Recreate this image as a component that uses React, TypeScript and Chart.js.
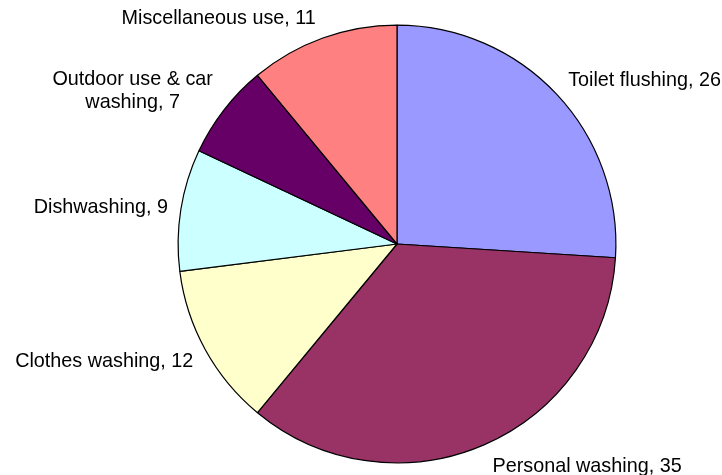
import React, { useEffect, useRef } from 'react';
import { Chart, registerables } from 'chart.js';

Chart.register(...registerables);

const categories = [
  'Toilet flushing',
  'Personal washing',
  'Clothes washing',
  'Dishwashing',
  'Outdoor use & car washing',
  'Miscellaneous use',
];
const values = [26, 35, 12, 9, 7, 11];
const colors = ['#9999FF', '#993366', '#FFFFCC', '#CCFFFF', '#660066', '#FF8080'];

const FONT_SIZE = 19.8;
const FONT = `${FONT_SIZE}px 'Liberation Sans', Arial, sans-serif`;

function wrap(ctx: CanvasRenderingContext2D, text: string, maxW: number): string[] {
  const words = text.split(' ');
  const lines: string[] = [];
  let cur = '';
  for (const w of words) {
    const test = cur ? cur + ' ' + w : w;
    if (cur && ctx.measureText(test).width > maxW) {
      lines.push(cur);
      cur = w;
    } else {
      cur = test;
    }
  }
  if (cur) lines.push(cur);
  return lines;
}

const labelPlugin = {
  id: 'outsideLabels',
  afterDatasetsDraw(chart: any) {
    const ctx: CanvasRenderingContext2D = chart.ctx;
    const meta = chart.getDatasetMeta(0);
    ctx.save();
    ctx.font = FONT;
    ctx.fillStyle = '#000';
    ctx.textBaseline = 'alphabetic';
    ctx.textAlign = 'center';
    meta.data.forEach((arc: any, i: number) => {
      const { x, y, startAngle, endAngle, outerRadius } = arc.getProps(
        ['x', 'y', 'startAngle', 'endAngle', 'outerRadius'],
        true
      );
      const mid = (startAngle + endAngle) / 2;
      const dx = Math.cos(mid);
      const dy = Math.sin(mid);
      const R = outerRadius + 9;
      const ax = x + dx * R;
      const ay = y + dy * R;
      const text = `${chart.data.labels[i]}, ${chart.data.datasets[0].data[i]}`;
      const lines = wrap(ctx, text, 200);
      const widths = lines.map((l) => ctx.measureText(l).width);
      const maxW = Math.max(...widths);
      const capH = 14;
      const lh = 22.3;
      const halfH = (capH + (lines.length - 1) * lh) / 2;
      const cy = ay + dy * (halfH + 6);
      const top = cy - halfH;
      const cx = dx >= 0 ? ax + 5 + maxW / 2 : ax - 4 - maxW / 2;
      lines.forEach((l, k) => ctx.fillText(l, cx, top + capH + k * lh));
    });
    ctx.restore();
  },
};

export default function App() {
  const ref = useRef<HTMLCanvasElement | null>(null);
  useEffect(() => {
    if (!ref.current) return;
    const chart = new Chart(ref.current, {
      type: 'pie',
      data: {
        labels: categories,
        datasets: [
          {
            data: values,
            backgroundColor: colors,
            borderColor: '#000',
            borderWidth: 1.2,
          },
        ],
      },
      options: {
        responsive: false,
        animation: false,
        layout: {
          padding: { left: 177.5, top: 24.5, right: 105.5, bottom: 11.5 },
        },
        plugins: {
          legend: { display: false },
          tooltip: { enabled: false },
        },
      },
      plugins: [labelPlugin],
    });
    return () => chart.destroy();
  }, []);
  return (
    <div style={{ position: 'absolute', left: 0, top: 0, width: 722, height: 475, background: '#fff' }}>
      <canvas ref={ref} width={722} height={475} />
    </div>
  );
}
